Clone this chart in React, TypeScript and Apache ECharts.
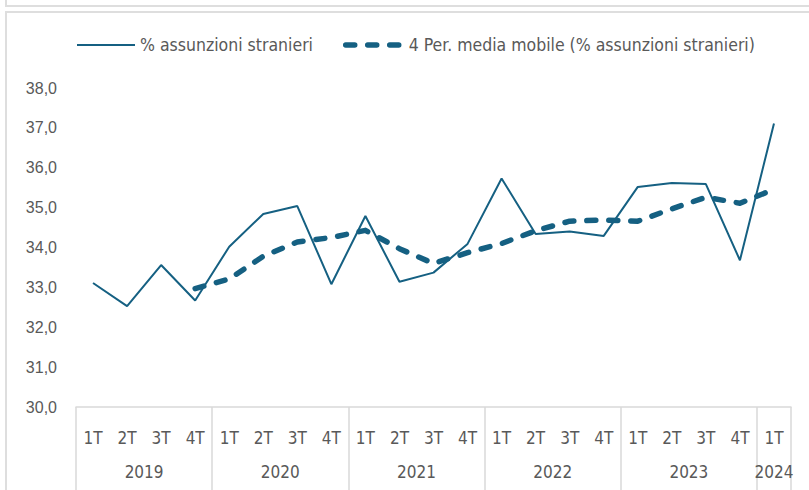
import React, { useEffect, useRef } from "react";
import * as echarts from "echarts";

const quarters = [
  "1T", "2T", "3T", "4T",
  "1T", "2T", "3T", "4T",
  "1T", "2T", "3T", "4T",
  "1T", "2T", "3T", "4T",
  "1T", "2T", "3T", "4T",
  "1T",
];
const years = ["2019", "2020", "2021", "2022", "2023", "2024"];
const quartersPerYear = [4, 4, 4, 4, 4, 1];

const shareForeign = [
  33.11, 32.53, 33.56, 32.67,
  34.02, 34.84, 35.04, 33.08,
  34.79, 33.14, 33.37, 34.09,
  35.73, 34.34, 34.40, 34.29,
  35.52, 35.62, 35.59, 33.68,
  37.11,
];
const movingAvg = [
  null, null, null, 32.97,
  33.21, 33.78, 34.14, 34.25,
  34.43, 33.97, 33.60, 33.87,
  34.10, 34.42, 34.66, 34.69,
  34.66, 34.97, 35.26, 35.11,
  35.46,
];

const yMin = 30;
const yMax = 38;
const yStep = 1;

const seriesNames = [
  "% assunzioni stranieri",
  "4 Per. media mobile (% assunzioni stranieri)",
];

const COLOR = "#156082";
const GRAY = "#d9d9d9";
const TEXT = "#595959";
const NARROW = '"Liberation Sans Narrow", "DejaVu Sans Condensed", "Roboto", sans-serif';
const SANS = '"Liberation Sans", "Roboto", sans-serif';

const solidStyle = { color: COLOR, width: 2 };
const dashStyle = {
  color: COLOR,
  width: 5.5,
  type: [9, 13],
  cap: "round",
  join: "round",
};

export default function App() {
  const ref = useRef<HTMLDivElement>(null);

  useEffect(() => {
    document.body.style.margin = "0";
    if (!ref.current) return;
    const chart = echarts.init(ref.current, undefined, { renderer: "svg" });

    const boundaries: number[] = [0];
    const centers: number[] = [];
    let acc = 0;
    quartersPerYear.forEach((n) => {
      centers.push(acc + n / 2);
      acc += n;
      boundaries.push(acc);
    });

    chart.setOption({
      animation: false,
      backgroundColor: "#ffffff",
      graphic: [
        {
          type: "rect",
          shape: { x: 6, y: -20, width: 900, height: 26 },
          style: { fill: "none", stroke: "#dedede", lineWidth: 2 },
          silent: true,
        },
        {
          type: "rect",
          shape: { x: 6, y: 12, width: 900, height: 600 },
          style: { fill: "none", stroke: "#dedede", lineWidth: 2 },
          silent: true,
        },
      ],
      legend: {
        top: 36,
        left: 76,
        padding: 0,
        itemWidth: 58,
        itemHeight: 14,
        itemGap: 30,
        itemStyle: { opacity: 0, borderWidth: 0 },
        textStyle: { color: TEXT, fontSize: 17.5, fontFamily: NARROW },
        data: [
          { name: seriesNames[0], lineStyle: { ...solidStyle, type: "solid" } },
          { name: seriesNames[1], lineStyle: { ...dashStyle } },
        ],
      },
      grid: { left: 76, right: 18, top: 88, bottom: 83, containLabel: false },
      xAxis: [
        {
          type: "category",
          data: quarters,
          boundaryGap: true,
          axisLine: { show: true, lineStyle: { color: GRAY, width: 1.5 } },
          axisTick: { show: false },
          splitLine: { show: false },
          axisLabel: {
            interval: 0,
            margin: 22,
            color: TEXT,
            fontSize: 17,
            fontFamily: NARROW,
          },
        },
        {
          type: "value",
          position: "bottom",
          min: 0,
          max: quarters.length,
          axisLine: { show: false },
          splitLine: { show: false },
          axisTick: {
            show: true,
            length: 85,
            inside: false,
            customValues: boundaries,
            lineStyle: { color: GRAY, width: 1.5 },
          },
          axisLabel: {
            show: true,
            margin: 56,
            customValues: centers,
            formatter: (v: number) => {
              const i = centers.findIndex((c) => Math.abs(c - v) < 1e-6);
              return i >= 0 ? years[i] : "";
            },
            color: TEXT,
            fontSize: 17,
            fontFamily: NARROW,
          },
        },
      ],
      yAxis: {
        type: "value",
        min: yMin,
        max: yMax,
        interval: yStep,
        axisLine: { show: false },
        axisTick: { show: false },
        splitLine: { show: false },
        axisLabel: {
          margin: 19,
          color: TEXT,
          fontSize: 16,
          fontFamily: SANS,
          formatter: (v: number) => v.toFixed(1).replace(".", ","),
        },
      },
      series: [
        {
          name: seriesNames[0],
          type: "line",
          xAxisIndex: 0,
          data: shareForeign,
          symbol: "none",
          lineStyle: solidStyle,
          itemStyle: { color: COLOR },
        },
        {
          name: seriesNames[1],
          type: "line",
          xAxisIndex: 0,
          data: movingAvg,
          symbol: "none",
          connectNulls: false,
          lineStyle: dashStyle,
          itemStyle: { color: COLOR },
        },
      ],
    });

    return () => chart.dispose();
  }, []);

  return <div ref={ref} style={{ width: 809, height: 490 }} />;
}
